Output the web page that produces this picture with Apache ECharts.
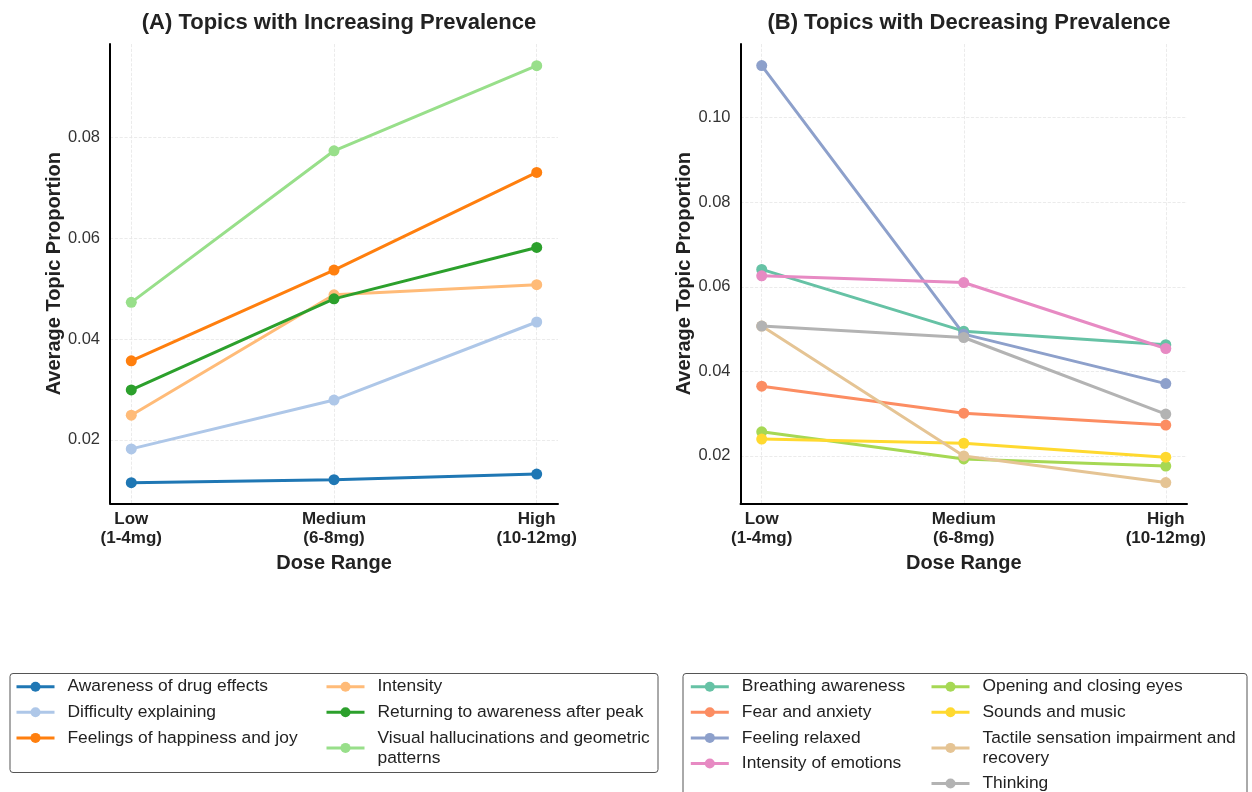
<!DOCTYPE html>
<html>
<head>
<meta charset="utf-8">
<title>Topic prevalence by dose range</title>
<script src="https://cdn.jsdelivr.net/npm/echarts@6/dist/echarts.min.js"></script>
<style>
  html, body { margin: 0; padding: 0; background: #fff; }
  #chart { width: 1252px; height: 792px; }
</style>
</head>
<body>
<div id="chart"></div>
<script>
const FONT = "'Liberation Sans', Arial, Helvetica, sans-serif";

const doseLabels = ['Low\n(1-4mg)', 'Medium\n(6-8mg)', 'High\n(10-12mg)'];

// (A) topics with increasing prevalence
const incTopics = [
  'Awareness of drug effects',
  'Difficulty explaining',
  'Feelings of happiness and joy',
  'Intensity',
  'Returning to awareness after peak',
  'Visual hallucinations and geometric patterns'
];
const incColors = ['#1f77b4', '#aec7e8', '#ff7f0e', '#ffbb78', '#2ca02c', '#98df8a'];
const awarenessDrugEffects = [0.0115, 0.0121, 0.0132];
const difficultyExplaining = [0.0182, 0.0279, 0.0434];
const happinessJoy = [0.0357, 0.0537, 0.0731];
const intensity = [0.0249, 0.0488, 0.0508];
const returningAwareness = [0.0299, 0.0480, 0.0582];
const visualHallucinations = [0.0473, 0.0774, 0.0943];
const incValues = [awarenessDrugEffects, difficultyExplaining, happinessJoy,
  intensity, returningAwareness, visualHallucinations];

// (B) topics with decreasing prevalence
const decTopics = [
  'Breathing awareness',
  'Fear and anxiety',
  'Feeling relaxed',
  'Intensity of emotions',
  'Opening and closing eyes',
  'Sounds and music',
  'Tactile sensation impairment and recovery',
  'Thinking'
];
const decColors = ['#66c2a5', '#fc8d62', '#8da0cb', '#e78ac3', '#a6d854', '#ffd92f', '#e5c494', '#b3b3b3'];
const breathingAwareness = [0.0641, 0.0495, 0.0463];
const fearAnxiety = [0.0365, 0.0301, 0.0273];
const feelingRelaxed = [0.1123, 0.0488, 0.0371];
const intensityEmotions = [0.0626, 0.0610, 0.0454];
const openingClosingEyes = [0.0257, 0.0193, 0.0176];
const soundsMusic = [0.0240, 0.0230, 0.0197];
const tactileSensation = [0.0507, 0.0200, 0.0137];
const thinking = [0.0507, 0.0480, 0.0299];
const decValues = [breathingAwareness, fearAnxiety, feelingRelaxed, intensityEmotions,
  openingClosingEyes, soundsMusic, tactileSensation, thinking];

// long legend names wrap onto a second line
const legendWrap = {
  'Visual hallucinations and geometric patterns': 'Visual hallucinations and geometric\npatterns',
  'Tactile sensation impairment and recovery': 'Tactile sensation impairment and\nrecovery'
};

const chart = echarts.init(document.getElementById('chart'));

const gridLine = { color: '#e6e6e6', type: 'dashed', width: 0.8 };

function doseAxis(gridIndex) {
  return {
    type: 'value',
    gridIndex,
    min: -0.105,
    max: 2.105,
    minInterval: 1,
    maxInterval: 1,
    axisLine: { show: true, onZero: false, lineStyle: { color: '#000', width: 2 } },
    axisTick: { show: false },
    axisLabel: {
      showMinLabel: false,
      showMaxLabel: false,
      margin: 7,
      fontFamily: FONT,
      fontSize: 17,
      fontWeight: 'bold',
      lineHeight: 19,
      color: '#222',
      formatter: v => {
        const i = Math.round(v);
        return Math.abs(v - i) < 1e-6 && doseLabels[i] ? doseLabels[i] : '';
      }
    },
    splitLine: { show: true, showMinLine: false, showMaxLine: false, lineStyle: gridLine },
    name: 'Dose Range',
    nameLocation: 'middle',
    nameGap: 45,
    nameTextStyle: { fontFamily: FONT, fontSize: 20, fontWeight: 'bold', color: '#222' }
  };
}

function proportionAxis(gridIndex, min, max) {
  return {
    type: 'value',
    gridIndex,
    min,
    max,
    splitNumber: 5,
    axisLine: { show: true, onZero: false, lineStyle: { color: '#000', width: 2 } },
    axisTick: { show: false },
    axisLabel: {
      showMinLabel: false,
      showMaxLabel: false,
      margin: 10,
      fontFamily: FONT,
      fontSize: 16.5,
      color: '#333',
      formatter: v => v.toFixed(2)
    },
    splitLine: { show: true, showMinLine: false, showMaxLine: false, lineStyle: gridLine },
    name: 'Average Topic Proportion',
    nameLocation: 'middle',
    nameGap: 46,
    nameTextStyle: { fontFamily: FONT, fontSize: 20, fontWeight: 'bold', color: '#222' }
  };
}

function makeSeries(names, values, colors, axisIndex) {
  return names.map((name, i) => ({
    name,
    type: 'line',
    xAxisIndex: axisIndex,
    yAxisIndex: axisIndex,
    data: values[i].map((v, j) => [j, v]),
    symbol: 'circle',
    symbolSize: 11,
    lineStyle: { width: 3, color: colors[i] },
    itemStyle: { color: colors[i] },
    emphasis: { disabled: true }
  }));
}

function legendColumn(names, left) {
  return {
    data: names,
    orient: 'vertical',
    left,
    top: 676.7,
    height: 160,
    padding: 0,
    itemWidth: 38,
    itemHeight: 12.5,
    itemGap: 5.6,
    selectedMode: false,
    lineStyle: { width: 3 },
    formatter: name => legendWrap[name] || name,
    textStyle: {
      fontFamily: FONT,
      fontSize: 17.4,
      lineHeight: 20,
      color: '#222',
      padding: [0, 0, 0, 8]
    }
  };
}

const option = {
  animation: false,
  backgroundColor: '#fff',
  title: [
    {
      text: '(A) Topics with Increasing Prevalence',
      left: 334,
      top: 7,
      textAlign: 'center',
      textStyle: { fontFamily: FONT, fontSize: 22, fontWeight: 'bold', color: '#222' }
    },
    {
      text: '(B) Topics with Decreasing Prevalence',
      left: 964,
      top: 7,
      textAlign: 'center',
      textStyle: { fontFamily: FONT, fontSize: 22, fontWeight: 'bold', color: '#222' }
    }
  ],
  grid: [
    { left: 110, top: 44, width: 448, height: 459.3, outerBoundsMode: 'none' },
    { left: 740.5, top: 44, width: 446.5, height: 459.3, outerBoundsMode: 'none' }
  ],
  xAxis: [doseAxis(0), doseAxis(1)],
  yAxis: [proportionAxis(0, 0.0074, 0.0986), proportionAxis(1, 0.0088, 0.1174)],
  legend: [
    legendColumn(incTopics.slice(0, 3), 15),
    legendColumn(incTopics.slice(3), 325),
    legendColumn(decTopics.slice(0, 4), 689.3),
    legendColumn(decTopics.slice(4), 930)
  ],
  graphic: [
    {
      type: 'rect',
      z: -1,
      shape: { x: 10, y: 673.5, width: 648, height: 99, r: 3 },
      style: { fill: '#fff', stroke: '#555', lineWidth: 1 }
    },
    {
      type: 'rect',
      z: -1,
      shape: { x: 683, y: 673.5, width: 564, height: 140, r: 3 },
      style: { fill: '#fff', stroke: '#555', lineWidth: 1 }
    }
  ],
  series: [
    ...makeSeries(incTopics, incValues, incColors, 0),
    ...makeSeries(decTopics, decValues, decColors, 1)
  ]
};

chart.setOption(option);
</script>
</body>
</html>
